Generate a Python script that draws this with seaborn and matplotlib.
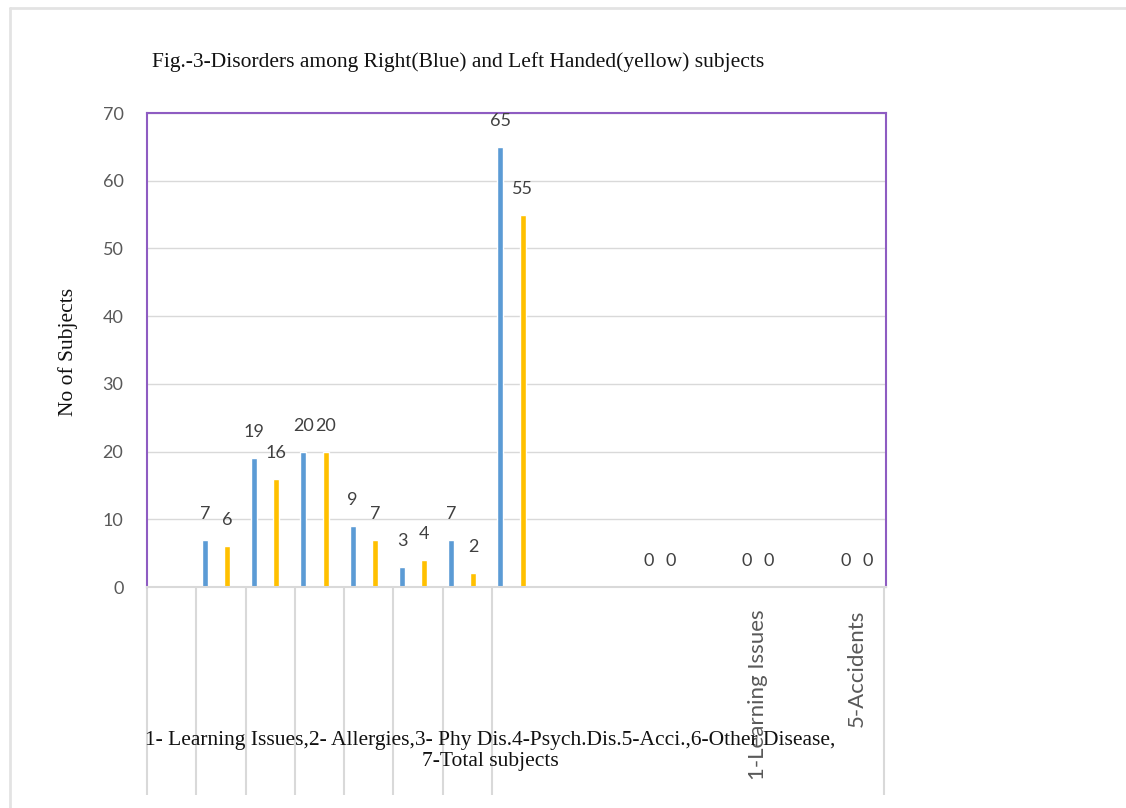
import matplotlib
matplotlib.use("Agg")
import matplotlib.pyplot as plt
from matplotlib.lines import Line2D
from matplotlib.transforms import blended_transform_factory
import seaborn as sns
import pandas as pd
import numpy as np

# ---- data ----
slots = list(range(15))
tick_labels = ["", "", "", "", "", "", "", "", "", "", "", "",
               "1-Learning Issues", "", "5-Accidents"]
right_handed = [np.nan, 7, 19, 20, 9, 3, 7, 65, np.nan, np.nan, 0, np.nan, 0, np.nan, 0]
left_handed = [np.nan, 6, 16, 20, 7, 4, 2, 55, np.nan, np.nan, 0, np.nan, 0, np.nan, 0]
series_names = ["Right", "Left"]
y_ticks = [0, 10, 20, 30, 40, 50, 60, 70]

title = "Fig.-3-Disorders among Right(Blue) and Left Handed(yellow) subjects"
y_title = "No of Subjects"
x_title = ("1- Learning Issues,2- Allergies,3- Phy Dis.4-Psych.Dis.5-Acci.,6-Other Disease,\n"
           "7-Total subjects")

BLUE = "#5B9BD5"
YELLOW = "#FFC000"
PURPLE = "#8E5CC2"
GRID = "#d9d9d9"
TXT = "#595959"

sns.set_style("white")
plt.rcParams["font.family"] = ["Lato", "DejaVu Sans"]

df = pd.DataFrame({
    "slot": slots * 2,
    "count": right_handed + left_handed,
    "hand": [series_names[0]] * len(slots) + [series_names[1]] * len(slots),
}).dropna()

W, H = 1126, 808
fig = plt.figure(figsize=(W / 100, H / 100), dpi=100)
ax = fig.add_axes([147 / W, (H - 587) / H, 739 / W, 474 / H])

sns.barplot(data=df, x="slot", y="count", hue="hand", hue_order=series_names,
            palette=[BLUE, YELLOW], native_scale=True, width=0.9, gap=0.73,
            errorbar=None, legend=False, ax=ax, saturation=1)

for cont in ax.containers:
    ax.bar_label(cont, fmt="%d", padding=13, fontsize=13, color="#404040")

ax.set_xlim(-0.4, 14.6)
ax.set_ylim(0, 70)
ax.set_yticks(y_ticks)
ax.set_yticklabels([str(v) for v in y_ticks])
ax.set_xticks(slots)
ax.set_xticklabels(tick_labels, rotation=90, va="top")
ax.tick_params(axis="y", length=0, pad=17, labelsize=13, labelcolor=TXT)
ax.tick_params(axis="x", length=0, pad=16, labelsize=16, labelcolor=TXT)
ax.set_xlabel("")
ax.set_ylabel("")
ax.yaxis.grid(True, color=GRID, lw=1)
ax.set_axisbelow(True)
for s in ["top", "left", "right"]:
    ax.spines[s].set_color(PURPLE)
    ax.spines[s].set_linewidth(1.5)
ax.spines["bottom"].set_color(GRID)
ax.spines["bottom"].set_linewidth(1.5)

# category divider lines below the axis
trans = blended_transform_factory(ax.transData, ax.transAxes)
div_x = [-0.4 + k for k in range(8)] + [14.55]
ax.vlines(div_x, 0, -208 / 474, transform=trans, clip_on=False, color=GRID, lw=1.5)

# texts
fig.text(152 / W, 1 - 62 / H, title, ha="left", va="center",
         family=["Liberation Serif"], fontsize=15.5, color="#111111")
fig.text(68 / W, 1 - 352 / H, y_title, rotation=90, ha="center", va="center",
         family=["Liberation Serif"], fontsize=15.5, color="#111111")
fig.text(490 / W, 1 - 751 / H, x_title, ha="center", va="center",
         family=["Liberation Serif"], fontsize=15.5, color="#111111", linespacing=1.15)

# outer frame
fig.add_artist(Line2D([10 / W, 10 / W], [0, 1 - 8 / H], transform=fig.transFigure,
                      color="#e3e3e3", lw=2))
fig.add_artist(Line2D([10 / W, 1], [1 - 8 / H, 1 - 8 / H], transform=fig.transFigure,
                      color="#e3e3e3", lw=2))

fig.savefig("out.png", dpi=100)
